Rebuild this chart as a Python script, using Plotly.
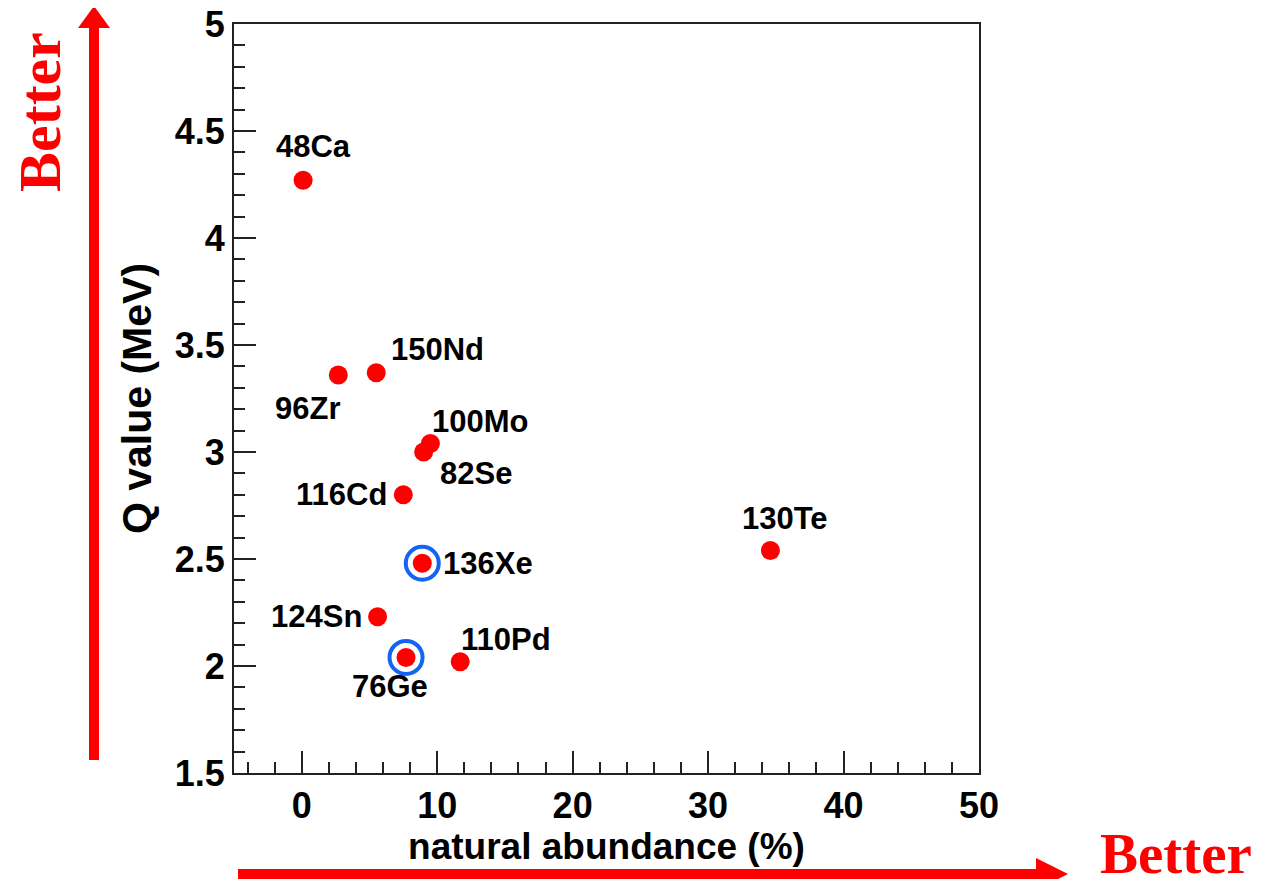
import plotly.graph_objects as go

# ---- data ----
isotopes = ["48Ca", "96Zr", "150Nd", "100Mo", "82Se", "116Cd", "136Xe", "124Sn", "76Ge", "110Pd", "130Te"]
abundance = [0.1, 2.7, 5.5, 9.5, 9.0, 7.5, 8.9, 5.6, 7.7, 11.7, 34.6]
q_value = [4.27, 3.36, 3.37, 3.04, 3.00, 2.80, 2.48, 2.23, 2.04, 2.02, 2.54]
highlighted = ["136Xe", "76Ge"]
# label offsets (pixels) relative to the point
label_dx = [10, -31, 61, 50, 52, -62, 66, -61, -16, 46, 15]
label_dy = [34, -34, 23, 22, -21, 0, 0, 0, -29, 22, 32]

x_ticks = [0, 10, 20, 30, 40, 50]
y_ticks = [1.5, 2, 2.5, 3, 3.5, 4, 4.5, 5]

OFF = 8                      # page body margin
W, H = 1271 - 2 * OFF, 887 - 2 * OFF
L, R, T, B = 234, 979, 24, 773  # plot area in screen pixels


def px(x):
    return (x - L) / (R - L)


def py(y):
    return (B - y) / (B - T)


FONT = "Liberation Sans, Arial, sans-serif"
SERIF = "Liberation Serif, Times New Roman, serif"
RED = "#FF0000"

fig = go.Figure()

fig.add_trace(go.Scatter(
    x=abundance, y=q_value, mode="markers",
    marker=dict(color=RED, size=19, line=dict(width=0)),
    hoverinfo="text", text=isotopes, showlegend=False,
))

hx = [abundance[isotopes.index(n)] for n in highlighted]
hy = [q_value[isotopes.index(n)] for n in highlighted]
fig.add_trace(go.Scatter(
    x=hx, y=hy, mode="markers",
    marker=dict(symbol="circle-open", color="#1464F4", size=33, line=dict(width=4, color="#1464F4")),
    hoverinfo="skip", showlegend=False,
))

for name, xv, yv, dx, dy in zip(isotopes, abundance, q_value, label_dx, label_dy):
    fig.add_annotation(
        x=xv, y=yv, xref="x", yref="y", text=name, showarrow=False,
        xshift=dx, yshift=dy, xanchor="center", yanchor="middle",
        font=dict(family=FONT, size=31, color="black", weight="bold"),
    )

# decorative arrows (paper coordinates)
shaft_v = dict(type="rect", xref="paper", yref="paper",
               x0=px(89), x1=px(99), y0=py(760), y1=py(27),
               fillcolor=RED, line=dict(width=0))
head_v = dict(type="path", xref="paper", yref="paper",
              path=f"M {px(78)} {py(28)} L {px(110)} {py(28)} L {px(94)} {py(6)} Z",
              fillcolor=RED, line=dict(width=0))
shaft_h = dict(type="rect", xref="paper", yref="paper",
               x0=px(238), x1=px(1037), y0=py(879), y1=py(869),
               fillcolor=RED, line=dict(width=0))
head_h = dict(type="path", xref="paper", yref="paper",
              path=f"M {px(1036)} {py(858)} L {px(1036)} {py(890)} L {px(1068)} {py(874)} Z",
              fillcolor=RED, line=dict(width=0))
for s in (shaft_v, head_v, shaft_h, head_h):
    fig.add_shape(**s)

fig.add_annotation(xref="paper", yref="paper", x=px(40), y=py(112), text="Better",
                   showarrow=False, textangle=-90, xanchor="center", yanchor="middle",
                   font=dict(family=SERIF, size=60, color=RED, weight="bold"))
fig.add_annotation(xref="paper", yref="paper", x=px(1176), y=py(853), text="Better",
                   showarrow=False, xanchor="center", yanchor="middle", borderpad=0,
                   font=dict(family=SERIF, size=57, color=RED, weight="bold"))

axis_common = dict(
    showline=True, linecolor="#222222", linewidth=2, mirror=True,
    showgrid=False, zeroline=False, automargin=False, ticklabeloverflow="allow",
    ticks="inside", tickcolor="#222222", tickwidth=2, ticklen=22,
    tickfont=dict(family=FONT, size=36, color="black", weight="bold"),
)

fig.update_xaxes(
    range=[-5, 50], tickmode="array", tickvals=x_ticks, ticktext=[str(v) for v in x_ticks],
    minor=dict(ticks="inside", dtick=2, tick0=0, ticklen=11, tickwidth=2, tickcolor="#222222"),
    title=dict(text="natural abundance (%)", standoff=6,
               font=dict(family=FONT, size=37, color="black", weight="bold")),
    **axis_common,
)
fig.update_yaxes(
    range=[1.5, 5], tickmode="array", tickvals=y_ticks, ticktext=[f"{v:g}" for v in y_ticks],
    minor=dict(ticks="inside", dtick=0.1, tick0=0, ticklen=11, tickwidth=2, tickcolor="#222222"),
    title=dict(text="Q value (MeV)", standoff=10,
               font=dict(family=FONT, size=41, color="black", weight="bold")),
    **axis_common,
)

fig.update_layout(
    width=W, height=H, autosize=False,
    margin=dict(l=L - OFF, r=W - (R - OFF), t=T - OFF, b=H - (B - OFF), pad=0),
    plot_bgcolor="white", paper_bgcolor="white",
    showlegend=False,
)

fig.write_html("out.html")
